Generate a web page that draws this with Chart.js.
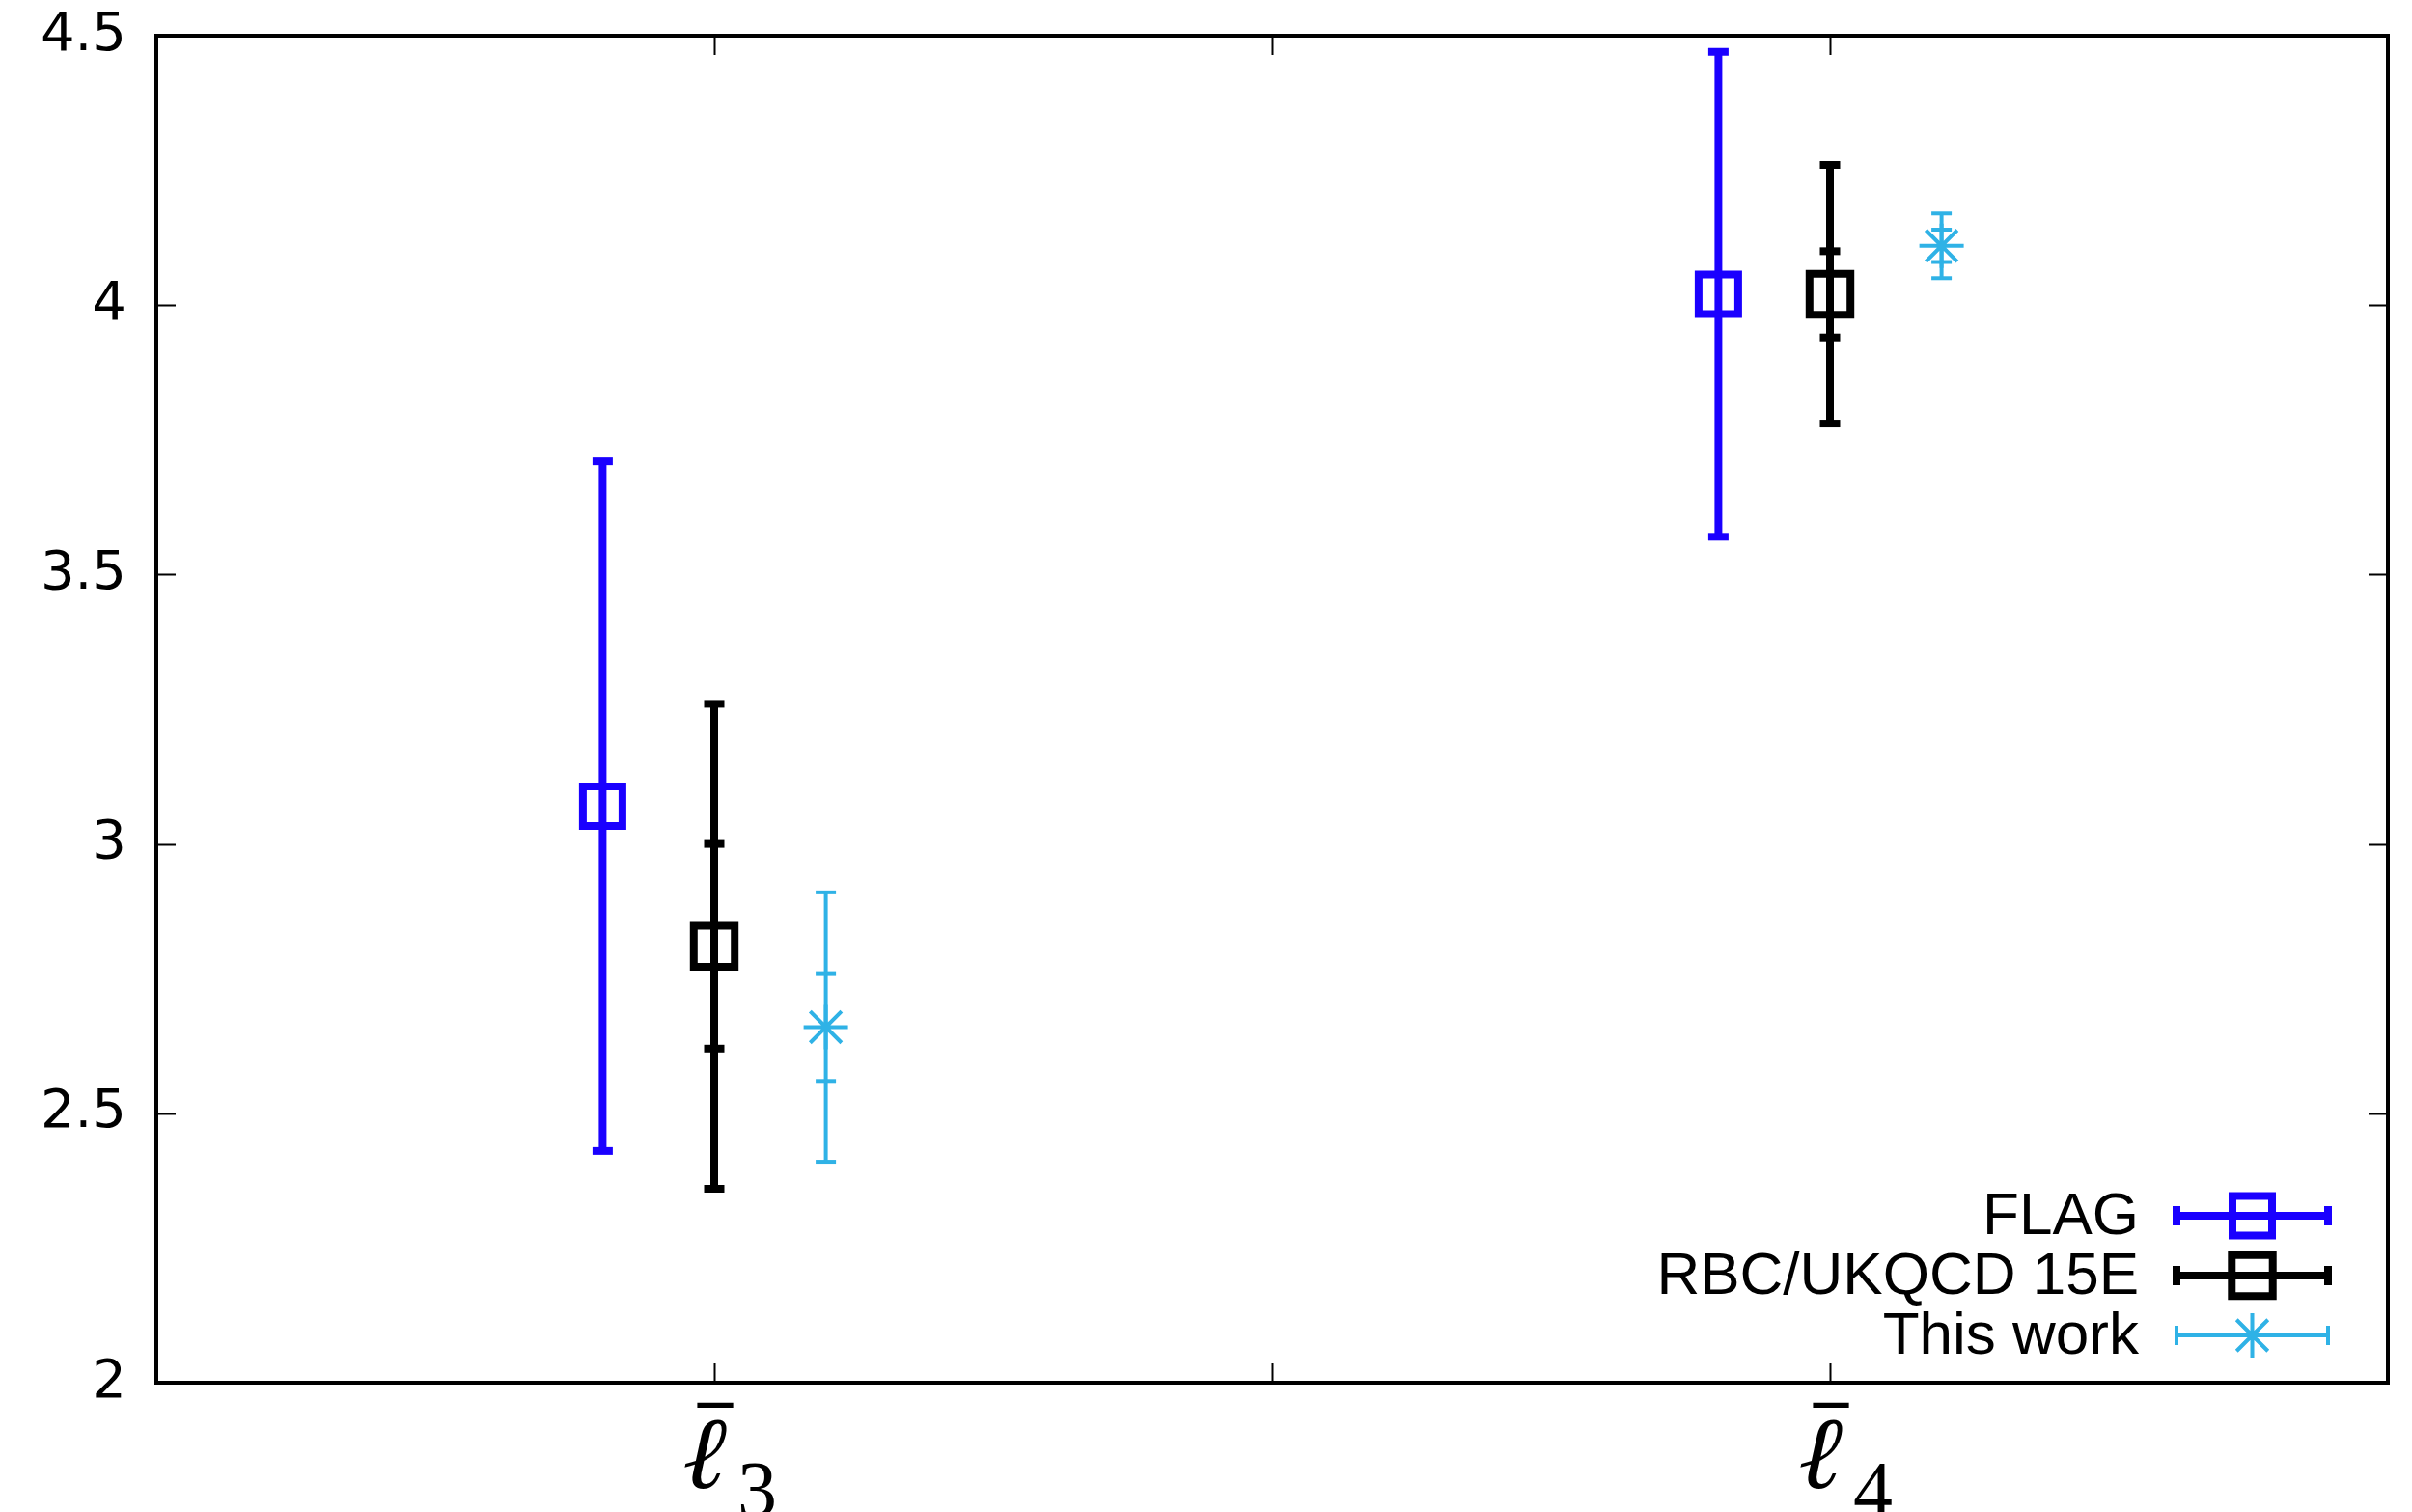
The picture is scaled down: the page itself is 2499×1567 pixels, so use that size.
<!DOCTYPE html>
<html>
<head>
<meta charset="utf-8">
<script src="https://cdn.jsdelivr.net/npm/chart.js@4.4.0/dist/chart.umd.min.js"></script>
<style>
  html, body { margin: 0; padding: 0; background: #fff; }
  canvas { display: block; }
</style>
</head>
<body>
<canvas id="chart" width="2499" height="1567"></canvas>
<script>
// 数据
var categories = ['ℓ̄₃', 'ℓ̄₄'];
var categorySymbol = 'ℓ';
var categorySub = ['3', '4'];
var categoryX = [1, 3];
var yTicks = [2, 2.5, 3, 3.5, 4, 4.5];
var seriesNames = ['FLAG', 'RBC/UKQCD 15E', 'This work'];

var flagValue = [3.07, 4.02];
var flagLow = [2.43, 3.57];
var flagHigh = [3.71, 4.47];

var rbcValue = [2.81, 4.02];
var rbcStatLow = [2.62, 3.94];
var rbcStatHigh = [3.00, 4.10];
var rbcLow = [2.36, 3.78];
var rbcHigh = [3.26, 4.26];

var thisValue = [2.66, 4.11];
var thisStatLow = [2.56, 4.08];
var thisStatHigh = [2.76, 4.14];
var thisLow = [2.41, 4.05];
var thisHigh = [2.91, 4.17];

// 样式
var BLUE = '#1a00ff';
var BLACK = '#000000';
var CYAN = '#2fb2e6';

// 误差棒竖线 + 端帽（端帽用 pointStyle 'line'）
function whiskers(offset, low, high, color, width) {
  var pts = [];
  categoryX.forEach(function (c, i) {
    pts.push({ x: c + offset, y: low[i] });
    pts.push({ x: c + offset, y: high[i] });
    pts.push({ x: c + offset, y: null });
  });
  return {
    data: pts,
    showLine: true,
    spanGaps: false,
    borderColor: color,
    borderWidth: width,
    pointStyle: 'line',
    pointRadius: 10.5,
    pointBorderWidth: width,
    pointBorderColor: color,
    pointHoverRadius: 10.5,
    order: 3
  };
}

// 统计误差小刻度
function statTicks(offset, low, high, color, width) {
  var pts = [];
  categoryX.forEach(function (c, i) {
    pts.push({ x: c + offset, y: low[i] });
    pts.push({ x: c + offset, y: high[i] });
  });
  return {
    data: pts,
    showLine: false,
    pointStyle: 'line',
    pointRadius: 10.5,
    pointBorderWidth: width,
    pointBorderColor: color,
    order: 2
  };
}

// 中心点
function centers(offset, values, color, style, radius, width) {
  return {
    data: categoryX.map(function (c, i) { return { x: c + offset, y: values[i] }; }),
    showLine: false,
    pointStyle: style,
    pointRadius: radius,
    pointHoverRadius: radius,
    pointBorderWidth: width,
    pointBorderColor: color,
    pointBackgroundColor: 'rgba(0,0,0,0)',
    order: 1
  };
}

var legendRows = [
  { name: seriesNames[0], color: BLUE, width: 8, style: 'rect', radius: 29, markerWidth: 8 },
  { name: seriesNames[1], color: BLACK, width: 8, style: 'rect', radius: 30, markerWidth: 8 },
  { name: seriesNames[2], color: CYAN, width: 4, style: 'star', radius: 23, markerWidth: 4 }
];

// 边框和向内的刻度
var framePlugin = {
  id: 'frame',
  afterDraw: function (chart) {
    var a = chart.chartArea;
    var ctx = chart.ctx;
    var xs = chart.scales.x, ys = chart.scales.y;
    ctx.save();
    ctx.strokeStyle = '#000';
    ctx.lineWidth = 2;
    ys.ticks.forEach(function (t) {
      if (t.value <= ys.min || t.value >= ys.max) return;
      var y = Math.round(ys.getPixelForValue(t.value)) + 0.5;
      ctx.beginPath();
      ctx.moveTo(a.left, y); ctx.lineTo(a.left + 20, y);
      ctx.moveTo(a.right, y); ctx.lineTo(a.right - 20, y);
      ctx.stroke();
    });
    xs.ticks.forEach(function (t) {
      if (t.value <= xs.min || t.value >= xs.max) return;
      var x = Math.round(xs.getPixelForValue(t.value)) + 0.5;
      ctx.beginPath();
      ctx.moveTo(x, a.bottom); ctx.lineTo(x, a.bottom - 20);
      ctx.moveTo(x, a.top); ctx.lineTo(x, a.top + 20);
      ctx.stroke();
    });
    ctx.lineWidth = 4;
    ctx.strokeRect(a.left, a.top, a.right - a.left, a.bottom - a.top);
    ctx.restore();
  }
};

// x 轴标签：ℓ 上加横线，右下角下标
var xLabelPlugin = {
  id: 'xLabels',
  afterDraw: function (chart) {
    var a = chart.chartArea;
    var ctx = chart.ctx;
    var xs = chart.scales.x;
    ctx.fillStyle = '#000';
    categoryX.forEach(function (c, i) {
      var px = xs.getPixelForValue(c);
      var base = a.bottom + 109;
      // ℓ（斜体效果）
      ctx.save();
      ctx.translate(px - 16, base);
      ctx.transform(1, 0, -0.22, 1, 0, 0);
      ctx.font = '106px "DejaVu Serif", "Liberation Serif", serif';
      ctx.textAlign = 'center';
      ctx.textBaseline = 'alphabetic';
      ctx.fillStyle = '#000';
      ctx.fillText(categorySymbol, 0, 0);
      ctx.restore();
      ctx.save();
      ctx.fillStyle = '#000';
      ctx.textBaseline = 'alphabetic';
      // 横线
      ctx.font = 'bold 72px "Liberation Serif", "DejaVu Serif", serif';
      ctx.textAlign = 'center';
      var m = ctx.measureText('\u00AF');
      ctx.fillText('\u00AF', px + 1, a.bottom + 20 + m.actualBoundingBoxAscent);
      // 下标
      ctx.font = '82px "Liberation Serif", "DejaVu Serif", serif';
      ctx.textAlign = 'left';
      ctx.fillText(categorySub[i], px + 24, a.bottom + 138);
      ctx.restore();
    });
  }
};

// 图例（右下角，文字在左，样本在右）
var legendPlugin = {
  id: 'legendRows',
  afterDraw: function (chart) {
    var a = chart.chartArea;
    var ctx = chart.ctx;
    var textRight = a.right - 258;
    var lineLeft = a.right - 219;
    var lineRight = a.right - 62;
    var markX = (lineLeft + lineRight) / 2;
    ctx.save();
    ctx.font = '62px "Liberation Sans", Arial, sans-serif';
    ctx.textAlign = 'right';
    ctx.textBaseline = 'middle';
    legendRows.forEach(function (r, i) {
      var y = a.bottom - 173 + i * 62;
      ctx.fillStyle = '#000';
      ctx.fillText(r.name, textRight, y + 2);
      ctx.strokeStyle = r.color;
      ctx.lineWidth = r.width;
      ctx.beginPath();
      ctx.moveTo(lineLeft, y); ctx.lineTo(lineRight, y);
      ctx.moveTo(lineLeft, y - 10); ctx.lineTo(lineLeft, y + 10);
      ctx.moveTo(lineRight, y - 10); ctx.lineTo(lineRight, y + 10);
      ctx.stroke();
      ctx.fillStyle = 'rgba(0,0,0,0)';
      ctx.lineWidth = r.markerWidth;
      Chart.helpers.drawPoint(ctx, { pointStyle: r.style, radius: r.radius, borderWidth: r.markerWidth, rotation: 0 }, markX, y);
    });
    ctx.restore();
  }
};

function createChart() {
  var ctx = document.getElementById('chart').getContext('2d');
  return new Chart(ctx, {
    type: 'scatter',
    data: {
      datasets: [
        centers(-0.2, flagValue, BLUE, 'rect', 29, 8),
        centers(0, rbcValue, BLACK, 'rect', 30, 8),
        centers(0.2, thisValue, CYAN, 'star', 23, 4),
        statTicks(0, rbcStatLow, rbcStatHigh, BLACK, 8),
        statTicks(0.2, thisStatLow, thisStatHigh, CYAN, 4),
        whiskers(-0.2, flagLow, flagHigh, BLUE, 8),
        whiskers(0, rbcLow, rbcHigh, BLACK, 8),
        whiskers(0.2, thisLow, thisHigh, CYAN, 4)
      ]
    },
    options: {
      responsive: false,
      animation: false,
      devicePixelRatio: 1,
      layout: { autoPadding: false, padding: { top: 37, right: 25, left: 0, bottom: 0 } },
      plugins: { legend: { display: false }, tooltip: { enabled: false } },
      scales: {
        x: {
          type: 'linear',
          min: 0,
          max: 4,
          grid: { display: false, drawTicks: false },
          border: { display: false },
          afterBuildTicks: function (s) {
            s.ticks = [0, 1, 2, 3, 4].map(function (v) { return { value: v }; });
          },
          afterFit: function (s) {
            s.height = 134;
            s.paddingLeft = 0; s.paddingRight = 0;
          },
          ticks: {
            autoSkip: false,
            maxRotation: 0,
            font: { size: 10 },
            callback: function () { return ''; }
          }
        },
        y: {
          type: 'linear',
          min: 2,
          max: 4.5,
          grid: { display: false, drawTicks: false },
          border: { display: false },
          afterBuildTicks: function (s) {
            s.ticks = yTicks.map(function (v) { return { value: v }; });
          },
          afterFit: function (s) {
            s.width = 162;
            s.paddingTop = 0; s.paddingBottom = 0;
          },
          ticks: {
            padding: 31,
            color: '#000',
            font: { family: '"DejaVu Sans", sans-serif', size: 56 },
            callback: function (v) { return String(v); }
          }
        }
      }
    },
    plugins: [framePlugin, xLabelPlugin, legendPlugin]
  });
}

var chart = createChart();
</script>
</body>
</html>
